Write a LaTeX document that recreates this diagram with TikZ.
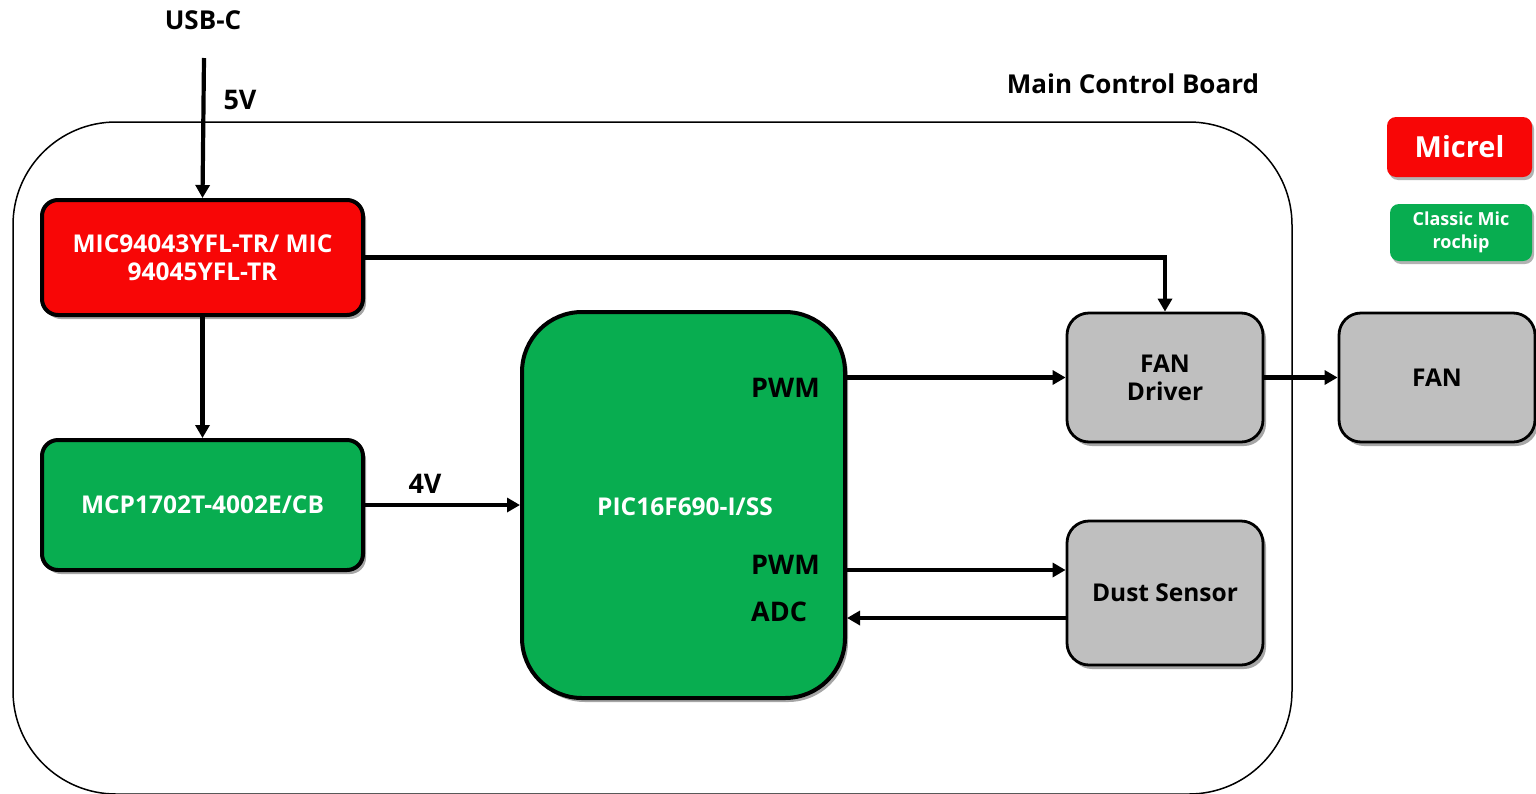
\documentclass[tikz,border=0pt]{standalone}
\usepackage{fontspec}
\setmainfont{Open Sans}
\usetikzlibrary{arrows.meta,shadows}
\definecolor{bred}{RGB}{248,6,6}
\definecolor{bgreen}{RGB}{8,173,80}
\definecolor{bgray}{RGB}{191,191,191}
\begin{document}
\begin{tikzpicture}[x=1pt,y=-1pt,
  every node/.style={font=\fontsize{24.5}{28}\selectfont\bfseries, align=center, inner sep=0pt},
  blk/.style={draw=black, line width=4pt, rounded corners=16pt, text=white,
    drop shadow={shadow xshift=3pt, shadow yshift=-4pt, opacity=0.35, fill=black}},
  redblk/.style={blk, fill=bred},
  greenblk/.style={blk, fill=bgreen},
  grayblk/.style={blk, fill=bgray, line width=2.8pt, rounded corners=22pt, text=black},
  legend/.style={rounded corners=9pt, text=white,
    drop shadow={shadow xshift=2pt, shadow yshift=-3pt, opacity=0.3, fill=black}},
  conn/.style={line width=4.2pt, -{Triangle[length=13pt,width=14pt]}},
  lbl/.style={text=black},
  pin/.style={text=black, font=\fontsize{27}{30}\selectfont\bfseries}
]
\useasboundingbox (0,0) rectangle (1536,793);
\begin{scope}
\clip (0,0) rectangle (1536,793);
\draw[line width=1.5pt, rounded corners=103pt] (13,122) rectangle (1292,794);
\end{scope}

\node[lbl, font=\fontsize{26}{30}\selectfont\bfseries] (usb) at (203,20) {USB-C};
\node[lbl, font=\fontsize{26}{30}\selectfont\bfseries] (mcb) at (1133,84) {Main Control Board};
\coordinate (usbin) at (204,58);

\node[redblk, minimum width=321pt, minimum height=115pt] (mic) at (202.5,257.5)
  {MIC94043YFL-TR/ MIC\\94045YFL-TR};
\node[greenblk, minimum width=321pt, minimum height=130pt] (mcp) at (202.5,505)
  {MCP1702T-4002E/CB};
\node[greenblk, minimum width=323pt, minimum height=386pt, rounded corners=60pt] (pic) at (683.5,505)
  {};
\node[text=white] (pictxt) at (685,507) {PIC16F690-I/SS};
\node[grayblk, minimum width=196pt, minimum height=129pt] (fdrv) at (1165,377.5) {FAN\\Driver};
\node[grayblk, minimum width=196pt, minimum height=144pt] (dust) at (1165,593) {Dust Sensor};
\node[grayblk, minimum width=196pt, minimum height=129pt] (fan) at (1437,377.5) {FAN};

\node[legend, fill=bred, minimum width=145pt, minimum height=60pt, font=\fontsize{29}{33}\selectfont\bfseries] (lmic) at (1459.5,147) {Micrel};
\node[legend, fill=bgreen, minimum width=142pt, minimum height=57pt, font=\fontsize{18}{23}\selectfont\bfseries] (lclass) at (1461,232.5) {Classic Mic\\rochip};

\node[pin, anchor=west] (pwm1) at (751,388) {PWM};
\node[pin, anchor=west] (pwm2) at (751,565) {PWM};
\node[pin, anchor=west] (adc) at (751,612) {ADC};
\node[pin] (v5) at (240,100) {5V};
\node[pin] (v4) at (425,484) {4V};

\draw[conn] (usbin) -- (mic.north);
\draw[conn] (mic.south) -- (mcp.north);
\draw[conn] (mcp.east) -- (pic.west |- mcp.east);
\draw[conn] (mic.east) -| (fdrv.north);
\draw[conn] (pic.east |- fdrv.west) -- (fdrv.west);
\draw[conn] (fdrv.east) -- (fan.west);
\draw[conn] (pic.east |- 0,570) -- (dust.west |- 0,570);
\draw[conn] (dust.west |- 0,618) -- (pic.east |- 0,618);
\end{tikzpicture}
\end{document}
